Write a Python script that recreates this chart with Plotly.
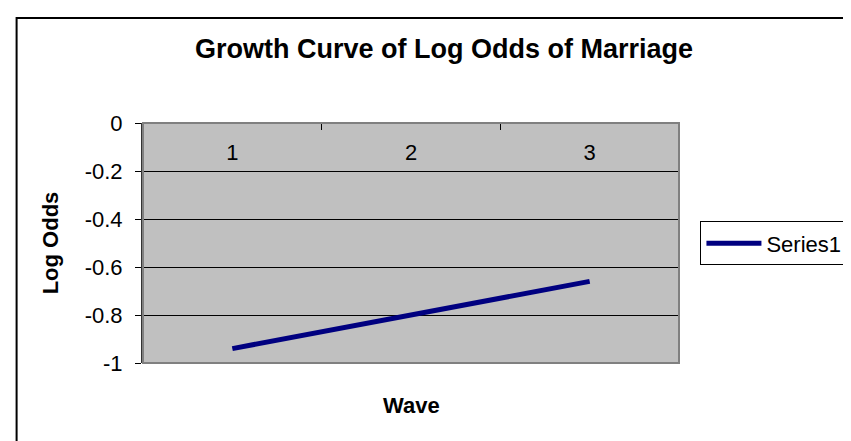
import plotly.graph_objects as go

waves = ["1", "2", "3"]
log_odds = [-0.94, -0.80, -0.66]
y_ticks = [0, -0.2, -0.4, -0.6, -0.8, -1]
y_tick_labels = ["0", "-0.2", "-0.4", "-0.6", "-0.8", "-1"]

FONT = "Liberation Sans, Arial, sans-serif"

fig = go.Figure()
fig.add_trace(go.Scatter(
    x=waves, y=log_odds, mode="lines", name="Series1",
    line=dict(color="#000080", width=5),
))

fig.update_layout(
    width=851, height=441,
    margin=dict(l=135, r=169, t=115, b=86),
    paper_bgcolor="white",
    plot_bgcolor="#C0C0C0",
    font=dict(family=FONT, size=22, color="black"),
    title=dict(text="<b>Growth Curve of Log Odds of Marriage</b>",
               x=436 / 851, xref="container", xanchor="center",
               y=1 - 41 / 441, yref="container", yanchor="middle",
               font=dict(size=27, family=FONT)),
    showlegend=True,
    legend=dict(x=1.04, xanchor="left", y=0.59, yanchor="top",
                bordercolor="black", borderwidth=1, bgcolor="white",
                itemwidth=55,
                font=dict(size=22, family=FONT)),
    xaxis=dict(
        type="category", anchor="free", position=1, side="bottom",
        showline=True, linecolor="black", linewidth=1,
        ticks="outside", ticklen=6, tickcolor="black", tickson="boundaries",
        showgrid=False, zeroline=False, ticklabelstandoff=10,
        range=[-0.5, 2.5], fixedrange=True,
    ),
    yaxis=dict(
        range=[-1, 0], tickvals=y_ticks, ticktext=y_tick_labels,
        showline=True, linecolor="#333333", linewidth=2,
        ticks="outside", ticklen=6, tickcolor="black", ticklabelstandoff=8,
        showgrid=True, gridcolor="black", gridwidth=1, zeroline=False,
        title=dict(text="<b>Log Odds</b>", standoff=20,
                   font=dict(size=22, family=FONT)),
    ),
    annotations=[dict(text="<b>Wave</b>", xref="paper", yref="paper",
                      x=0.5, y=(355 - 397) / 240, xanchor="center", yanchor="middle",
                      showarrow=False, font=dict(size=22, family=FONT))],
    shapes=[
        dict(type="rect", xref="paper", yref="paper", x0=0, x1=1, y0=0, y1=1,
             line=dict(color="#808080", width=2), layer="above"),
        dict(type="rect", xref="paper", yref="paper",
             x0=(6 - 135) / 547, x1=(860 - 135) / 547,
             y0=(355 - 450) / 240, y1=(355 - 10) / 240,
             line=dict(color="black", width=2), layer="below"),
    ],
)

fig.write_html("out.html")
